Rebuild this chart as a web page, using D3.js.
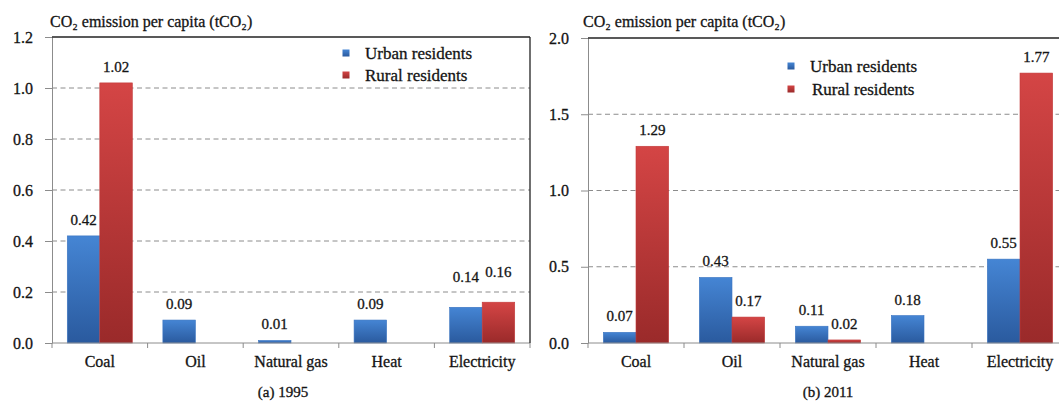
<!DOCTYPE html>
<html>
<head>
<meta charset="utf-8">
<script src="https://cdn.jsdelivr.net/npm/d3@7"></script>
<style>
  html, body { margin: 0; padding: 0; background: #fff; }
  svg { display: block; }
  svg text { font-family: "Liberation Serif", "DejaVu Serif", serif !important; fill: #141414; stroke: #141414; stroke-width: 0.3px; }
</style>
</head>
<body>
<svg id="chart" width="1059" height="401"></svg>
<script>
// Per-capita CO2 emission by energy source, urban vs rural residents
const categories = ["Coal", "Oil", "Natural gas", "Heat", "Electricity"];
const seriesNames = ["Urban residents", "Rural residents"];

const urban1995 = [0.42, 0.09, 0.01, 0.09, 0.14];
const rural1995 = [1.02, null, null, null, 0.16];
const urban2011 = [0.07, 0.43, 0.11, 0.18, 0.55];
const rural2011 = [1.29, 0.17, 0.02, null, 1.77];

const yTicks1995 = [0, 0.2, 0.4, 0.6, 0.8, 1.0, 1.2];
const yTicks2011 = [0, 0.5, 1.0, 1.5, 2.0];

const yTitle = "CO\u2082 emission per capita (tCO\u2082)";
const captions = ["(a) 1995", "(b) 2011"];

const FONT = "'Liberation Serif', 'DejaVu Serif', serif";

const svg = d3.select("#chart").attr("font-family", FONT);
const defs = svg.append("defs");

// Vertical shading for the two series
const fills = [
  { id: "gradUrban", top: "#4585d4", bottom: "#2a5a9e", stroke: "#3a74c0" },
  { id: "gradRural", top: "#d44545", bottom: "#9a2a2a", stroke: "#c23a3a" }
];
fills.forEach(f => {
  const g = defs.append("linearGradient").attr("id", f.id)
    .attr("x1", 0).attr("y1", 0).attr("x2", 0).attr("y2", 1);
  g.append("stop").attr("offset", "0%").attr("stop-color", f.top);
  g.append("stop").attr("offset", "100%").attr("stop-color", f.bottom);
});

const panels = [
  {
    urban: urban1995, rural: rural1995, ticks: yTicks1995, max: 1.2,
    xRange: [52, 530], yRange: [343, 37], rightBorder: true,
    titleX: 50, legendX: 346, legendY: [53, 75], legendTextDx: [19, 19],
    captionX: 283, caption: captions[0],
    labelLift: { Electricity: 14 }
  },
  {
    urban: urban2011, rural: rural2011, ticks: yTicks2011, max: 2.0,
    xRange: [588, 1068], yRange: [343, 38], rightBorder: false,
    titleX: 583, legendX: 791, legendY: [66, 89], legendTextDx: [19, 21],
    captionX: 828, caption: captions[1],
    labelLift: {}
  }
];

panels.forEach(p => {
  const g = svg.append("g");
  const x = d3.scaleBand().domain(categories).range(p.xRange).padding(0);
  const y = d3.scaleLinear().domain([0, p.max]).range(p.yRange);
  const bw = x.bandwidth();
  const xs = d3.scaleBand().domain([0, 1]).range([0, bw]).paddingInner(0).paddingOuter(0.47);

  // Dashed gridlines
  g.append("g").selectAll("line")
    .data(p.ticks.filter(t => t > 0 && t < p.max))
    .join("line")
    .attr("x1", p.xRange[0]).attr("x2", p.xRange[1])
    .attr("y1", d => y(d)).attr("y2", d => y(d))
    .attr("stroke", "#8c8c8c").attr("stroke-width", 1)
    .attr("stroke-dasharray", "5,3.5");

  // Y axis
  const yAxis = d3.axisLeft(y).tickValues(p.ticks).tickFormat(d3.format(".1f"))
    .tickSizeInner(7).tickSizeOuter(0).tickPadding(12);
  const ya = g.append("g").attr("transform", `translate(${p.xRange[0]},0)`).call(yAxis)
    .attr("font-family", FONT).attr("font-size", 16);
  ya.select(".domain").attr("stroke", "#8c8c8c");
  ya.selectAll(".tick line").attr("stroke", "#8c8c8c");
  ya.selectAll(".tick text").attr("fill", "#141414");

  // Bars
  const series = [p.urban, p.rural];
  series.forEach((vals, si) => {
    const data = categories.map((c, i) => ({ c, v: vals[i] })).filter(d => d.v != null);
    g.append("g").selectAll("rect").data(data).join("rect")
      .attr("x", d => x(d.c) + xs(si))
      .attr("width", xs.bandwidth())
      .attr("y", d => y(d.v))
      .attr("height", d => y(0) - y(d.v))
      .attr("fill", `url(#${fills[si].id})`)
      .attr("stroke", fills[si].stroke).attr("stroke-width", 0.6);

    g.append("g").selectAll("text").data(data).join("text")
      .attr("x", d => x(d.c) + xs(si) + xs.bandwidth() / 2)
      .attr("y", d => y(d.v) - 11 - (p.labelLift[d.c] || 0))
      .attr("text-anchor", "middle")
      .attr("font-family", FONT)
      .attr("font-size", 15)
      .text(d => d3.format(".2f")(d.v));
  });

  // X axis with category boundary ticks
  const xa = g.append("g").attr("transform", `translate(0,${y(0)})`);
  xa.append("line").attr("x1", p.xRange[0]).attr("x2", p.xRange[1])
    .attr("stroke", "#8c8c8c");
  const bounds = categories.map(c => x(c)).concat([p.xRange[1]]);
  xa.selectAll("line.tk").data(bounds).join("line").attr("class", "tk")
    .attr("x1", d => d).attr("x2", d => d).attr("y1", 0).attr("y2", 5)
    .attr("stroke", "#8c8c8c");
  xa.selectAll("text").data(categories).join("text")
    .attr("x", d => x(d) + bw / 2).attr("y", 24)
    .attr("text-anchor", "middle")
    .attr("font-family", FONT).attr("font-size", 16)
    .text(d => d);

  // Frame: top border (and right border for the left panel)
  g.append("line").attr("x1", p.xRange[0]).attr("x2", p.xRange[1])
    .attr("y1", y(p.max)).attr("y2", y(p.max))
    .attr("stroke", "#222").attr("stroke-width", 1.3);
  if (p.rightBorder) {
    g.append("line").attr("x1", p.xRange[1]).attr("x2", p.xRange[1])
      .attr("y1", y(p.max)).attr("y2", y(0))
      .attr("stroke", "#222").attr("stroke-width", 1.3);
  }

  // Axis title
  g.append("text").attr("x", p.titleX).attr("y", 27)
    .attr("font-family", FONT).attr("font-size", 16).text(yTitle);

  // Legend
  seriesNames.forEach((name, si) => {
    g.append("rect")
      .attr("x", p.legendX - 3.5).attr("y", p.legendY[si] - 3.5)
      .attr("width", 7).attr("height", 7)
      .attr("fill", `url(#${fills[si].id})`);
    g.append("text")
      .attr("x", p.legendX + p.legendTextDx[si]).attr("y", p.legendY[si] + 6)
      .attr("font-family", FONT).attr("font-size", 17).text(name);
  });

  // Panel caption
  g.append("text").attr("x", p.captionX).attr("y", 397)
    .attr("text-anchor", "middle")
    .attr("font-family", FONT).attr("font-size", 15).text(p.caption);
});
</script>
</body>
</html>
